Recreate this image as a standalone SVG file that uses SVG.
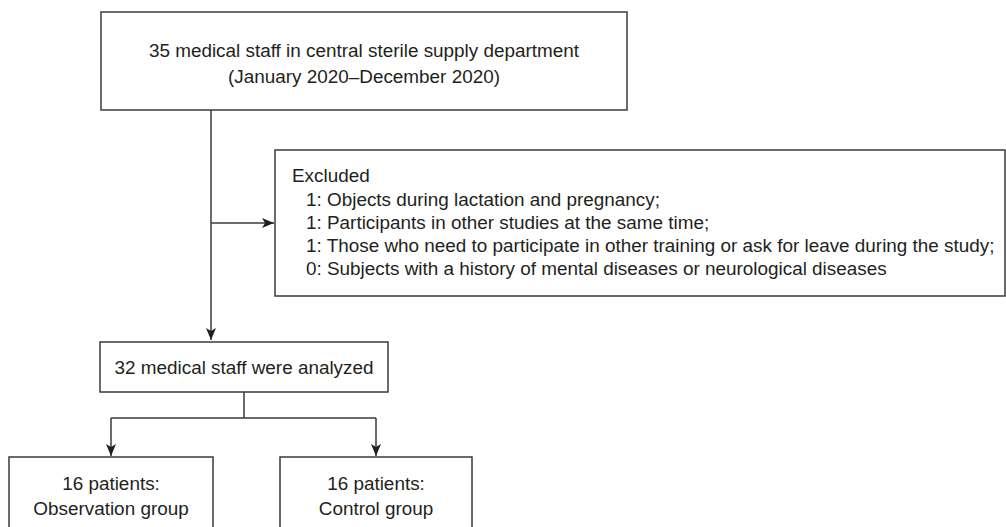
<svg xmlns="http://www.w3.org/2000/svg" width="1006" height="527" viewBox="0 0 1006 527">
<defs>
<style>
.box{fill:#fff;stroke:#3a3a3a;stroke-width:1.5}
.ln{fill:none;stroke:#3a3a3a;stroke-width:1.5}
text{font-family:"Liberation Sans",Arial,sans-serif;font-size:18.9px;fill:#231f20}
.c{text-anchor:middle}
</style>
<marker id="ah" viewBox="0 0 12 10" refX="12" refY="5" markerWidth="12" markerHeight="10" markerUnits="userSpaceOnUse" orient="auto">
<path d="M0,0 L12,5 L0,10 L3,5 Z" fill="#231f20"/>
</marker>
</defs>
<rect width="1006" height="527" fill="#fff"/>
<g id="connectors">
<path class="ln" d="M211,110 V340" marker-end="url(#ah)"/>
<path class="ln" d="M211,223 H274" marker-end="url(#ah)"/>
<path class="ln" d="M244,392 V418 M111,418 H376"/>
<path class="ln" d="M111,418 V456" marker-end="url(#ah)"/>
<path class="ln" d="M376,418 V456" marker-end="url(#ah)"/>
</g>
<g id="n_start">
<rect class="box" x="101" y="12" width="526" height="98"/>
<text class="c" x="364" y="57">35 medical staff in central sterile supply department</text>
<text class="c" x="364" y="83">(January 2020–December 2020)</text>
</g>
<g id="n_excluded">
<rect class="box" x="275" y="150" width="730" height="146"/>
<text x="292" y="182">Excluded</text>
<text x="306" y="206">1: Objects during lactation and pregnancy;</text>
<text x="306" y="229">1: Participants in other studies at the same time;</text>
<text x="306" y="252">1: Those who need to participate in other training or ask for leave during the study;</text>
<text x="306" y="275">0: Subjects with a history of mental diseases or neurological diseases</text>
</g>
<g id="n_analyzed">
<rect class="box" x="100" y="342" width="288" height="50"/>
<text class="c" x="244" y="374">32 medical staff were analyzed</text>
</g>
<g id="n_obs">
<rect class="box" x="9" y="457" width="204" height="80"/>
<text class="c" x="111" y="490">16 patients:</text>
<text class="c" x="111" y="515">Observation group</text>
</g>
<g id="n_ctrl">
<rect class="box" x="280" y="457" width="192" height="80"/>
<text class="c" x="376" y="490">16 patients:</text>
<text class="c" x="376" y="515">Control group</text>
</g>
</svg>
